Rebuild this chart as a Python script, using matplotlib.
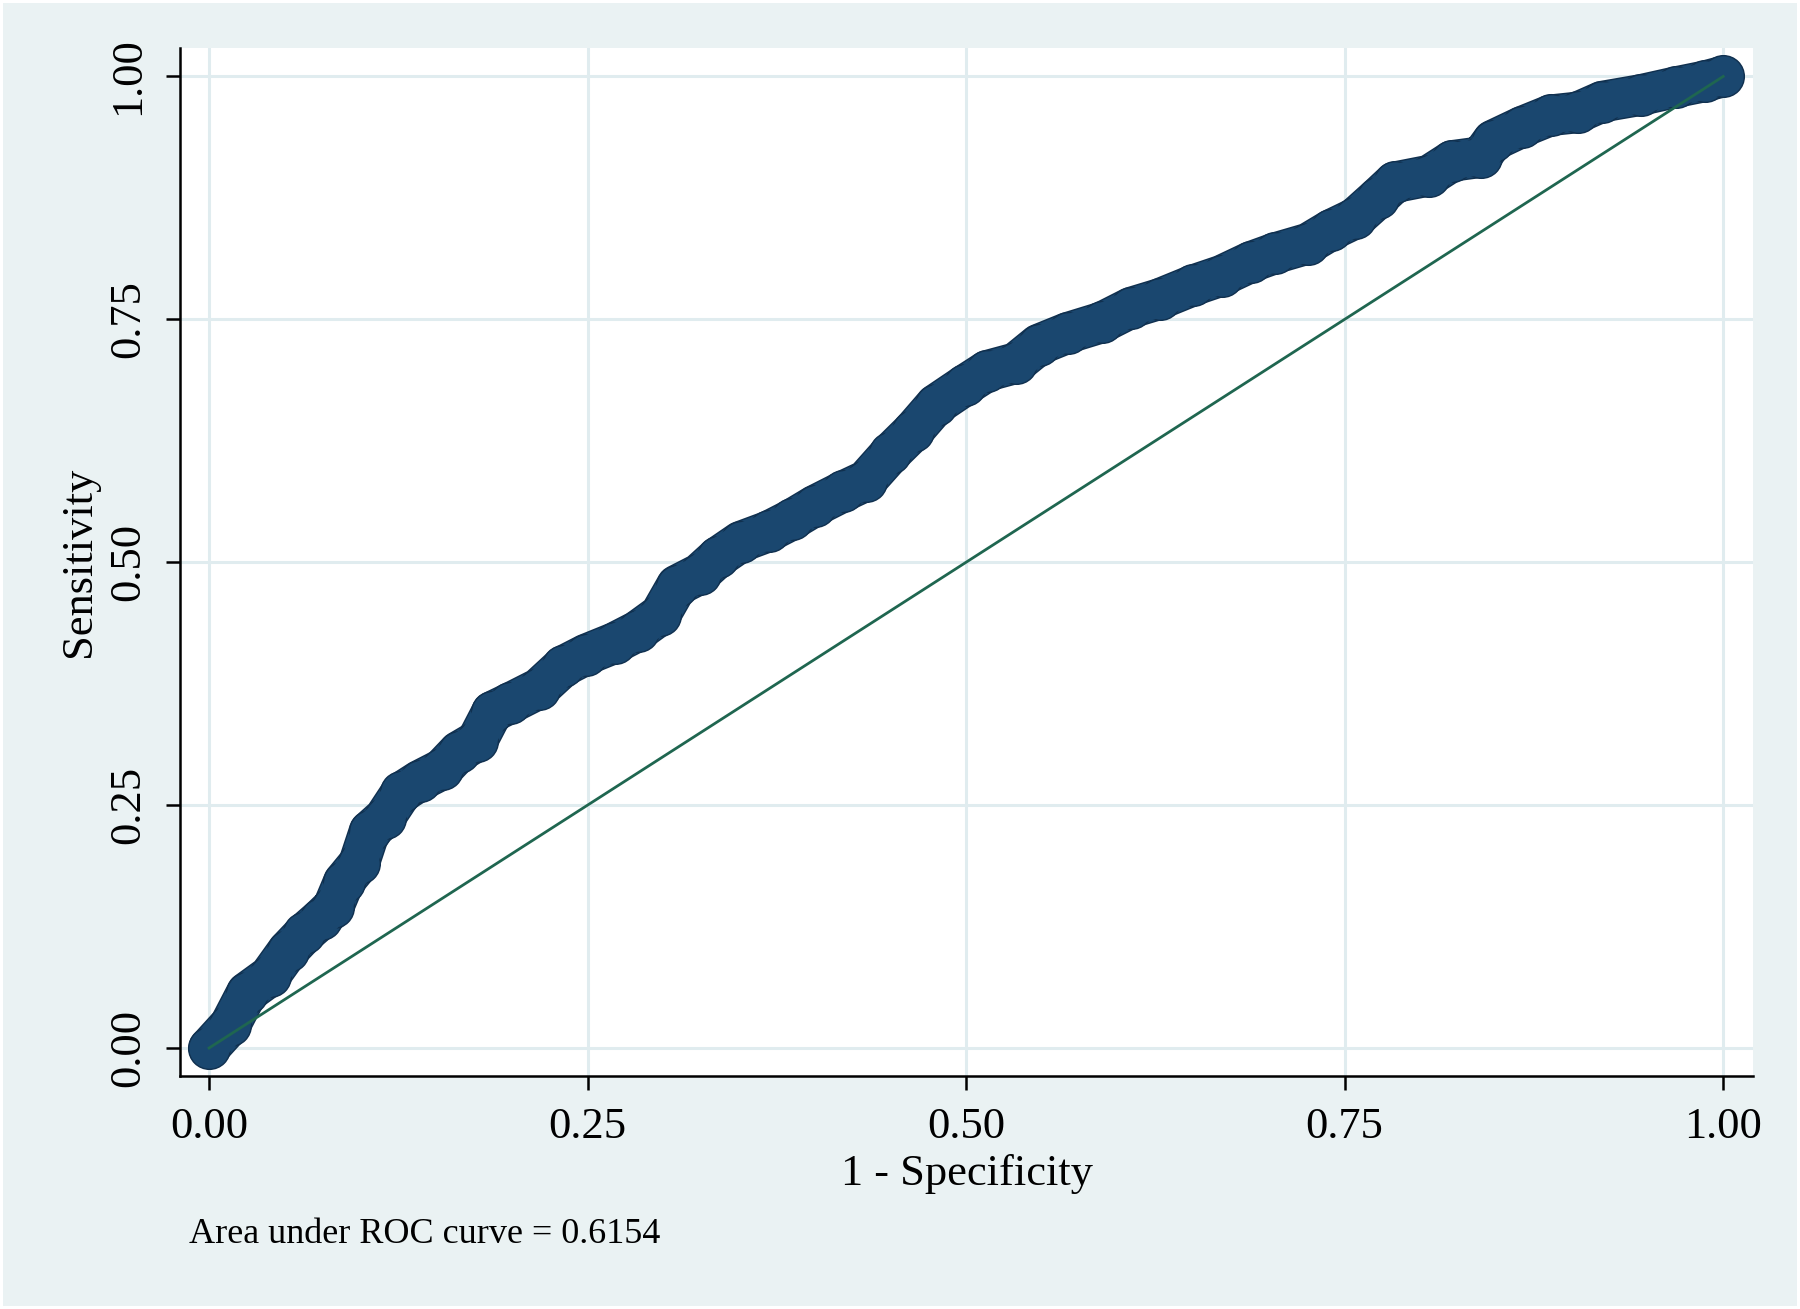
import numpy as np
import matplotlib
matplotlib.use("Agg")
import matplotlib.pyplot as plt
import matplotlib.patheffects as pe
from matplotlib.patches import Rectangle

# ROC curve points (1 - specificity, sensitivity)
fpr = [0.000, 0.014, 0.025, 0.040, 0.052, 0.063, 0.074, 0.082, 0.089, 0.099,
       0.106, 0.116, 0.127, 0.139, 0.154, 0.165, 0.177, 0.187, 0.199, 0.218,
       0.234, 0.249, 0.268, 0.283, 0.298, 0.309, 0.324, 0.336, 0.351, 0.370,
       0.385, 0.400, 0.419, 0.434, 0.450, 0.465, 0.480, 0.499, 0.514, 0.533,
       0.548, 0.567, 0.590, 0.609, 0.628, 0.650, 0.669, 0.688, 0.704, 0.726,
       0.741, 0.757, 0.772, 0.783, 0.806, 0.821, 0.840, 0.848, 0.867, 0.886,
       0.904, 0.920, 0.946, 0.969, 0.988, 1.000]
tpr = [0.000, 0.024, 0.057, 0.074, 0.100, 0.118, 0.133, 0.145, 0.171, 0.190,
       0.223, 0.237, 0.263, 0.275, 0.287, 0.305, 0.316, 0.346, 0.355, 0.370,
       0.393, 0.405, 0.417, 0.429, 0.446, 0.476, 0.488, 0.505, 0.521, 0.532,
       0.544, 0.558, 0.573, 0.584, 0.612, 0.635, 0.662, 0.682, 0.697, 0.705,
       0.724, 0.736, 0.747, 0.762, 0.771, 0.785, 0.795, 0.809, 0.818, 0.828,
       0.842, 0.854, 0.875, 0.891, 0.898, 0.913, 0.917, 0.934, 0.948, 0.960,
       0.963, 0.974, 0.981, 0.989, 0.995, 1.000]
ref_line = [0.0, 1.0]
ticks = [0.0, 0.25, 0.5, 0.75, 1.0]
tick_labels = ["0.00", "0.25", "0.50", "0.75", "1.00"]
auc_text = "Area under ROC curve = 0.6154"

BG = "#EAF2F3"
NAVY = "#1A476F"
EDGE = "#10304F"
GREEN = "#1F6650"

plt.rcParams["font.family"] = ["Liberation Serif", "DejaVu Serif"]

fig = plt.figure(figsize=(18, 13.09), dpi=100)
fig.patch.set_facecolor("white")
fig.patches.append(Rectangle((3 / 1800, 3 / 1309), 1 - 6 / 1800, 1 - 6 / 1309,
                             transform=fig.transFigure, facecolor=BG,
                             edgecolor="none", zorder=-10))

ax = fig.add_axes([0.1, 0.178, 0.874, 0.785])
ax.set_facecolor("white")
ax.set_xlim(-0.0192, 1.0198)
ax.set_ylim(-0.0288, 1.0288)

ax.set_xticks(ticks)
ax.set_xticklabels(tick_labels)
ax.set_yticks(ticks)
ax.set_yticklabels(tick_labels, rotation=90, va="center")
ax.grid(True, color="#E0ECEF", linewidth=2.2, zorder=0)
ax.set_axisbelow(True)

for s in ["top", "right"]:
    ax.spines[s].set_visible(False)
for s in ["left", "bottom"]:
    ax.spines[s].set_linewidth(1.8)
    ax.spines[s].set_color("black")

ax.tick_params(axis="both", direction="out", length=10, width=1.8,
               labelsize=32, colors="black")
ax.tick_params(axis="x", pad=12)
ax.tick_params(axis="y", pad=13)

# ROC curve: thick chain of circles
ax.plot(fpr, tpr, color=NAVY, linewidth=28, solid_capstyle="round",
        solid_joinstyle="round", zorder=3,
        path_effects=[pe.Stroke(linewidth=30, foreground=EDGE), pe.Normal()])
ax.plot(fpr, tpr, linestyle="none", marker="o", markersize=30,
        markerfacecolor=NAVY, markeredgecolor=EDGE, markeredgewidth=1, zorder=3)
ax.plot(fpr, tpr, color=NAVY, linewidth=26, solid_capstyle="round",
        solid_joinstyle="round", zorder=4)

# reference line
ax.plot(ref_line, ref_line, color=GREEN, linewidth=2.0, zorder=5)

ax.set_xlabel("1 - Specificity", fontsize=32)
ax.set_ylabel("Sensitivity", fontsize=32)
ax.xaxis.set_label_coords(0.5, -0.076)
ax.yaxis.set_label_coords(-0.0515, 0.5)

fig.text(189 / 1800, 1 - 1243 / 1309, auc_text, fontsize=26, va="baseline", ha="left")

fig.savefig("out.png", dpi=100, facecolor=fig.get_facecolor())
